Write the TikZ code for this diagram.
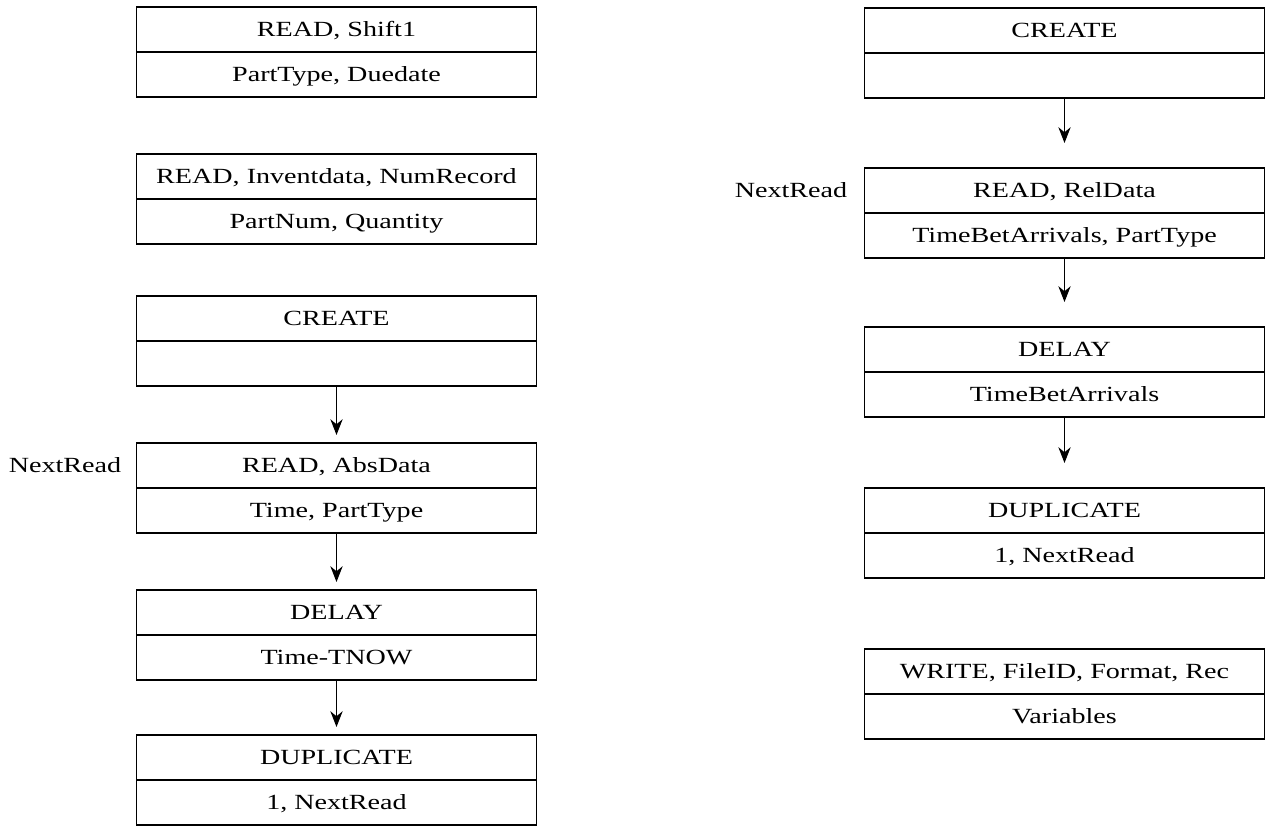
\documentclass[tikz,border=0pt]{standalone}
\usepackage{fontspec}
\setmainfont{Liberation Serif}[FakeStretch=1.3]
\usetikzlibrary{arrows.meta, positioning}
\tikzstyle{cell} = [rectangle, draw=black, line width=1.1pt, minimum width=8cm, minimum height=0.9cm, inner sep=0pt, outer sep=0pt, text height=0.29cm, text depth=0cm, font=\fontsize{12.3}{14}\selectfont]
\tikzstyle{flow} = [line width=0.6pt, -{Stealth[length=9pt,width=7pt]}]
\tikzstyle{tag} = [font=\fontsize{12.3}{14}\selectfont, inner sep=0pt]

\begin{document}
\begin{tikzpicture}
        \useasboundingbox (0,0) rectangle (25.34,-16.64);
        % left column: read blocks
        \node (n1) [cell, anchor=north] at (6.73,-0.14) {READ, Shift1};
        \node (p1) [cell, below=0pt of n1] {PartType, Duedate};
        \node (n2) [cell, anchor=north] at (6.73,-3.08) {READ, Inventdata, NumRecord};
        \node (p2) [cell, below=0pt of n2] {PartNum, Quantity};
        % left column: absolute arrivals
        \node (n3) [cell, anchor=north] at (6.73,-5.92) {CREATE};
        \node (p3) [cell, below=0pt of n3] {};
        \node (n4) [cell, anchor=north] at (6.73,-8.86) {READ, AbsData};
        \node (p4) [cell, below=0pt of n4] {Time, PartType};
        \node (r1) [tag, left=0.3cm of n4] {NextRead};
        \node (n5) [cell, anchor=north] at (6.73,-11.80) {DELAY};
        \node (p5) [cell, below=0pt of n5] {Time-TNOW};
        \node (n6) [cell, anchor=north] at (6.73,-14.70) {DUPLICATE};
        \node (p6) [cell, below=0pt of n6] {1, NextRead};
        \draw [flow, shorten >=0.16cm] (p3) -- (n4);
        \draw [flow, shorten >=0.16cm] (p4) -- (n5);
        \draw [flow, shorten >=0.16cm] (p5) -- (n6);

        % right column: relative arrivals
        \node (n7) [cell, anchor=north] at (21.29,-0.16) {CREATE};
        \node (p7) [cell, below=0pt of n7] {};
        \node (n8) [cell, anchor=north] at (21.29,-3.36) {READ, RelData};
        \node (p8) [cell, below=0pt of n8] {TimeBetArrivals, PartType};
        \node (r2) [tag, left=0.34cm of n8] {NextRead};
        \node (n9) [cell, anchor=north] at (21.29,-6.54) {DELAY};
        \node (p9) [cell, below=0pt of n9] {TimeBetArrivals};
        \node (n10) [cell, anchor=north] at (21.29,-9.76) {DUPLICATE};
        \node (p10) [cell, below=0pt of n10] {1, NextRead};
        \draw [flow, shorten >=0.5cm] (p7) -- (n8);
        \draw [flow, shorten >=0.5cm] (p8) -- (n9);
        \draw [flow, shorten >=0.5cm] (p9) -- (n10);
        % right column: write block
        \node (n11) [cell, anchor=north] at (21.29,-12.98) {WRITE, FileID, Format, Rec};
        \node (p11) [cell, below=0pt of n11] {Variables};

      \end{tikzpicture}
\end{document}
